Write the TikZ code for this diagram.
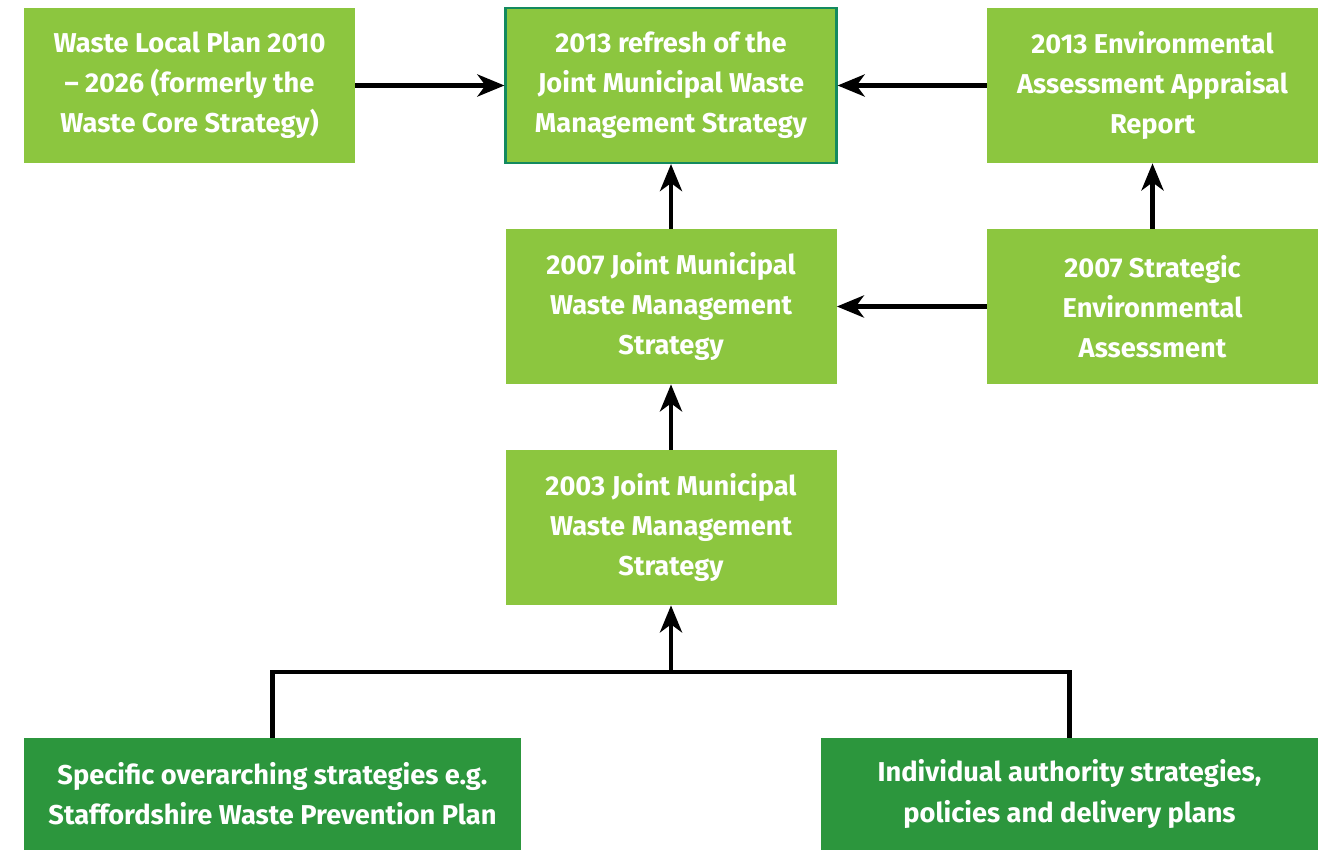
\documentclass[tikz,border=0pt]{standalone}
\usepackage{fontspec}
\setmainfont{Fira Sans}
\usetikzlibrary{arrows.meta}
\definecolor{lgreen}{HTML}{8CC63F}
\definecolor{dgreen}{HTML}{2C963D}
\definecolor{edgegreen}{HTML}{138A5E}

\begin{document}
\begin{tikzpicture}[
  box/.style={fill=lgreen, text=white, align=center, inner sep=0pt,
    minimum width=6.62cm, minimum height=3.1cm,
    font=\fontsize{15.5}{22.8}\selectfont\bfseries},
  bigbox/.style={box, fill=dgreen, minimum width=9.94cm, minimum height=2.24cm},
  link/.style={line width=2.7pt, -{Stealth[length=5.4mm, width=4.4mm, inset=1.6mm]}}]
  \useasboundingbox (0,0) rectangle (26.54,17);
  \node[box] (wlp) at (3.79,15.29) {Waste Local Plan 2010\\– 2026 (formerly the\\Waste Core Strategy)};
  \node[box, draw=edgegreen, line width=1.2pt] (jms13) at (13.42,15.29) {2013 refresh of the\\Joint Municipal Waste\\Management Strategy};
  \node[box] (eaar) at (23.05,15.29) {2013 Environmental\\Assessment Appraisal\\Report};
  \node[box] (jms07) at (13.42,10.87) {2007 Joint Municipal\\Waste Management\\Strategy};
  \node[box] (sea) at (23.05,10.87) {2007 Strategic\\Environmental\\Assessment};
  \node[box] (jms03) at (13.42,6.45) {2003 Joint Municipal\\Waste Management\\Strategy};
  \node[bigbox] (sos) at (5.45,1.12) {Specific overarching strategies e.g.\\Staffordshire Waste Prevention Plan};
  \node[bigbox] (ias) at (21.39,1.12) {Individual authority strategies,\\policies and delivery plans};
  \coordinate (join) at (13.42,3.56);
  \draw[link] (wlp) -- (jms13);
  \draw[link] (eaar) -- (jms13);
  \draw[link] (jms07) -- (jms13);
  \draw[link] (sea) -- (eaar);
  \draw[link] (sea) -- (jms07);
  \draw[link] (jms03) -- (jms07);
  \draw[line width=2.7pt] (sos.north) |- (join) -| (ias.north);
  \draw[link] (join) -- (jms03);
\end{tikzpicture}
\end{document}
